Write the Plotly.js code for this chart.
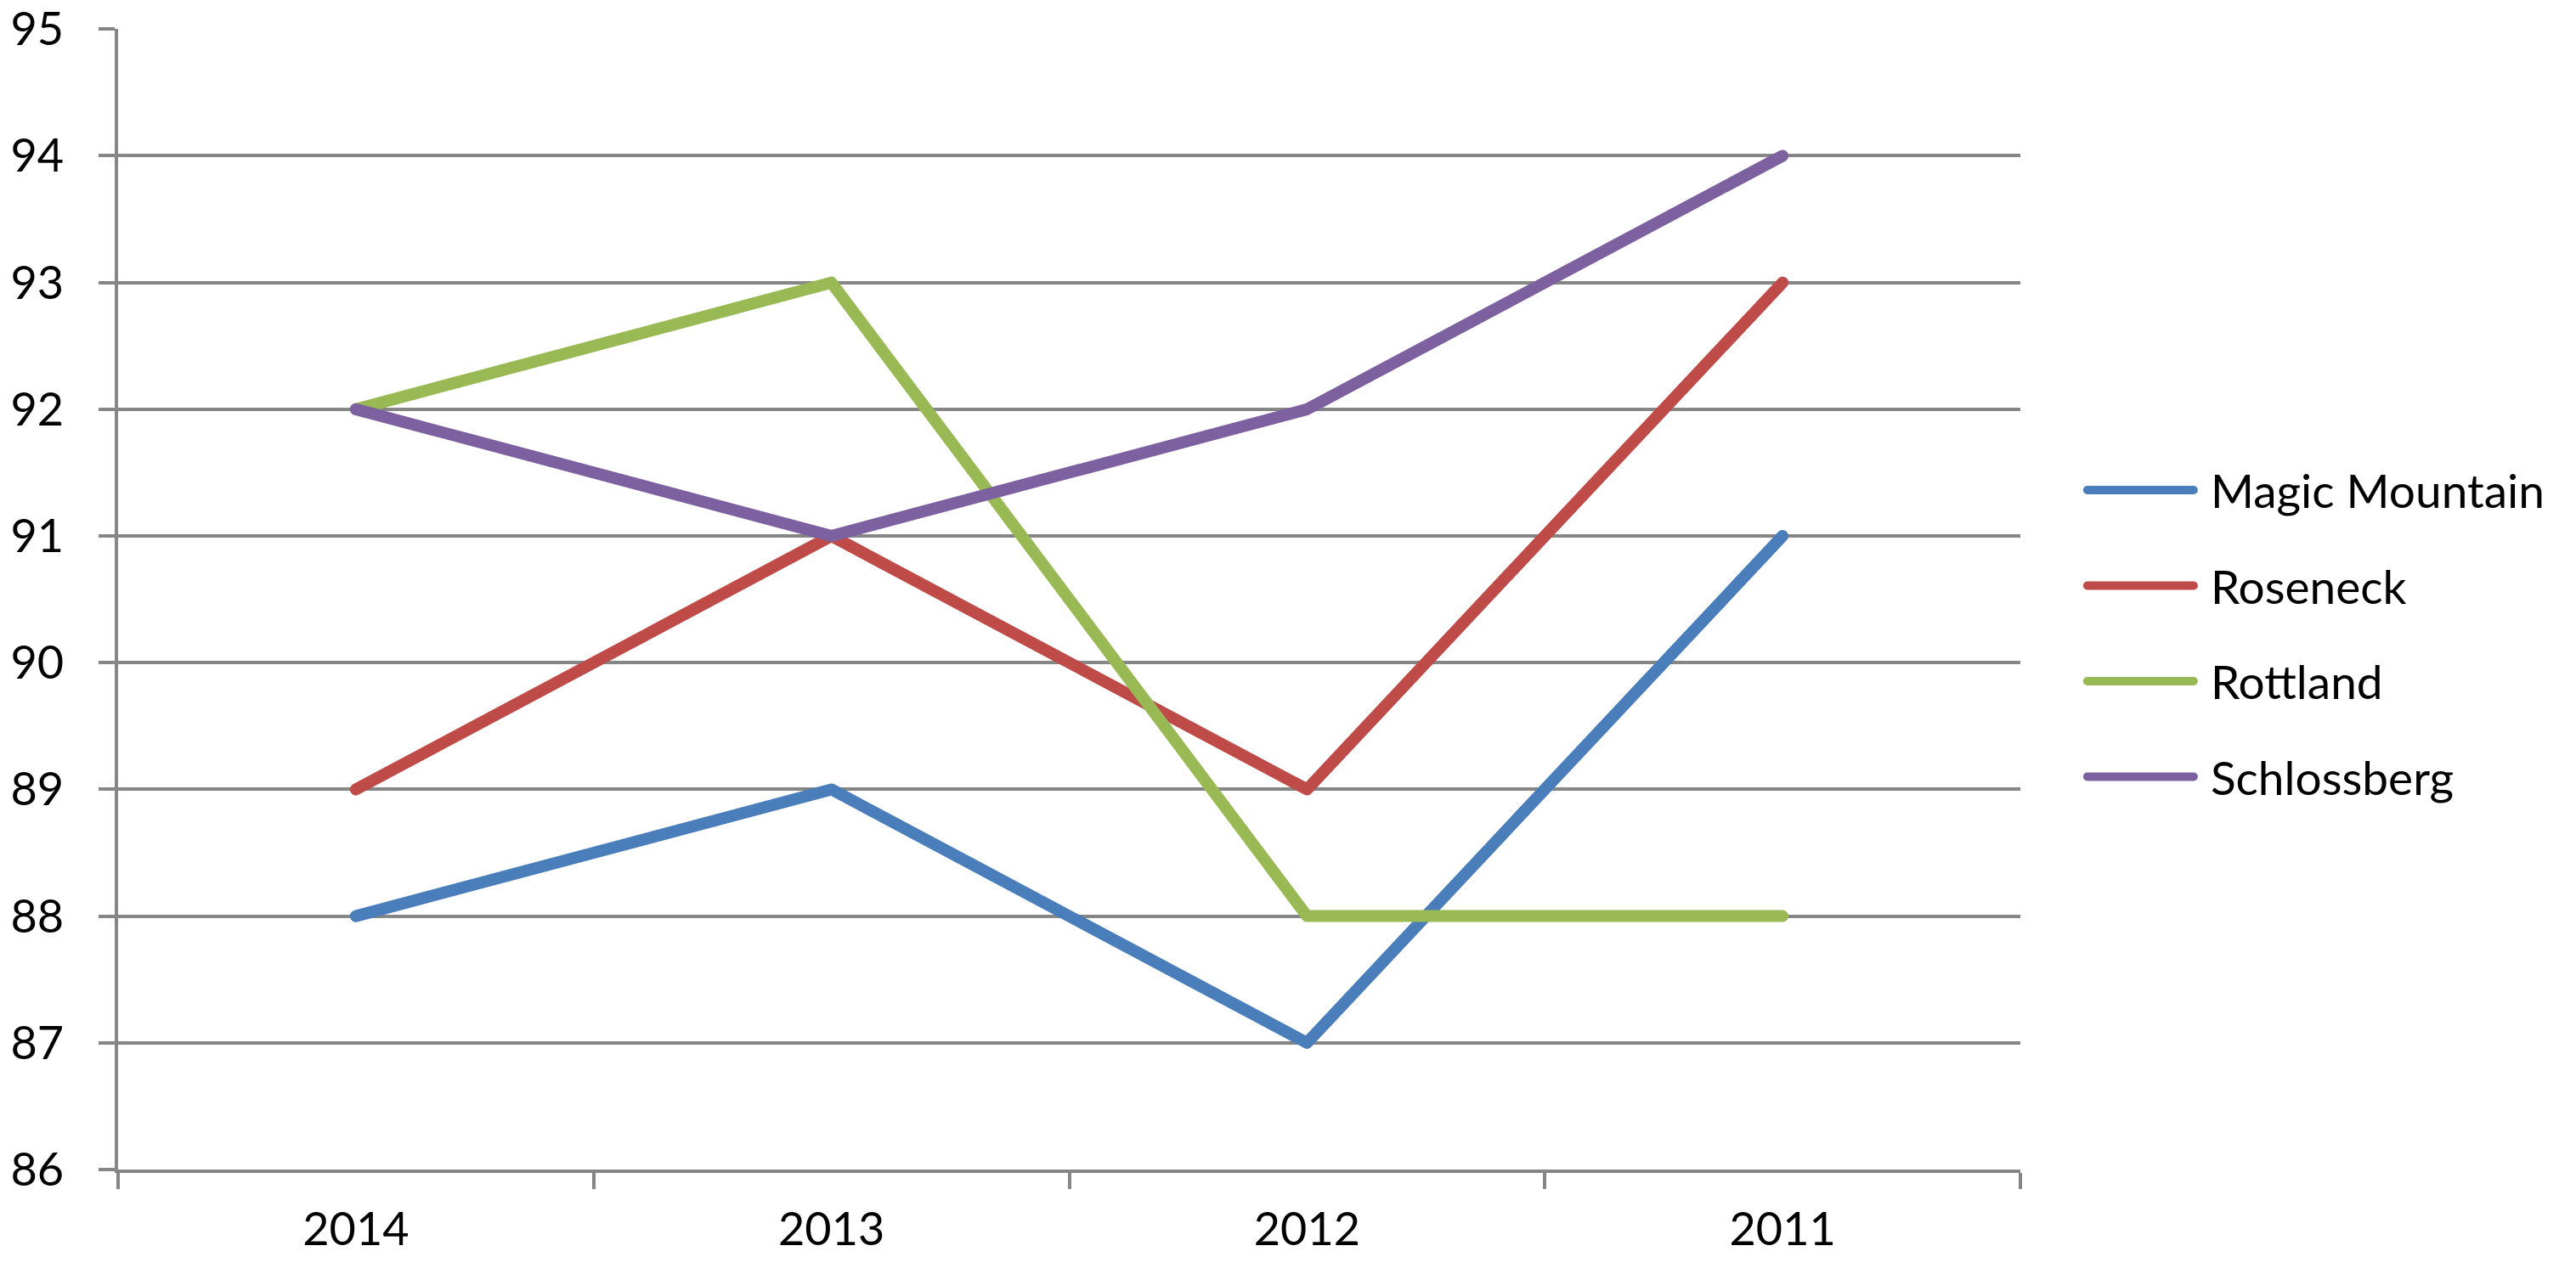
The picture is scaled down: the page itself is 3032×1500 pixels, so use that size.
<!DOCTYPE html>
<html>
<head>
<meta charset="utf-8">
<script src="https://cdn.plot.ly/plotly-3.0.1.min.js"></script>
<style>
html,body{margin:0;padding:0;background:#fff;}
#chart{width:3032px;height:1500px;}
</style>
</head>
<body>
<div id="chart"></div>
<script>
const years = ["2014", "2013", "2012", "2011"];
const magicMountain = [88, 89, 87, 91];
const roseneck = [89, 91, 89, 93];
const rottland = [92, 93, 88, 88];
const schlossberg = [92, 91, 92, 94];
const seriesNames = ["Magic Mountain", "Roseneck", "Rottland", "Schlossberg"];
const seriesColors = ["#4A7EBB", "#BE4B48", "#98B954", "#7D60A0"];
const seriesValues = [magicMountain, roseneck, rottland, schlossberg];
const yTicks = [86, 87, 88, 89, 90, 91, 92, 93, 94, 95];

const FONT = "Lato, 'Open Sans', sans-serif";
const GRID = "#868686";

const traces = seriesValues.map((vals, i) => ({
  type: "scatter",
  mode: "lines",
  x: years,
  y: vals,
  name: seriesNames[i],
  legendgroup: "g" + i,
  line: {color: seriesColors[i], width: 14},
  hoverinfo: "x+y+name"
}));

const layout = {
  width: 3032,
  height: 1500,
  paper_bgcolor: "#ffffff",
  plot_bgcolor: "#ffffff",
  margin: {l: 139, r: 654, t: 34, b: 123, pad: 0},
  font: {family: FONT, size: 54, color: "#000000"},
  showlegend: true,
  legend: {
    x: 1.033, xanchor: "left",
    y: 0.47, yanchor: "middle",
    traceorder: "grouped",
    tracegroupgap: 38,
    itemwidth: 140,
    font: {family: FONT, size: 55, color: "#000"},
    bgcolor: "rgba(0,0,0,0)",
    borderwidth: 0
  },
  xaxis: {
    type: "category",
    categoryorder: "array",
    categoryarray: years,
    range: [-0.5, 3.5],
    tickson: "boundaries",
    ticks: "outside",
    ticklen: 19,
    tickwidth: 4,
    tickcolor: GRID,
    showgrid: false,
    showline: true,
    linecolor: GRID,
    linewidth: 4,
    zeroline: false,
    ticklabelstandoff: 20,
    tickfont: {family: FONT, size: 54, color: "#000"}
  },
  yaxis: {
    range: [86, 95.002],
    tickvals: yTicks,
    ticktext: yTicks.map(String),
    ticks: "outside",
    ticklen: 19,
    tickwidth: 4,
    tickcolor: GRID,
    showgrid: true,
    gridcolor: GRID,
    gridwidth: 4,
    showline: true,
    linecolor: GRID,
    linewidth: 4,
    zeroline: false,
    ticklabelstandoff: 30,
    ticklabeloverflow: "allow",
    tickfont: {family: FONT, size: 54, color: "#000"}
  }
};

Plotly.newPlot("chart", traces, layout, {displayModeBar: false, staticPlot: true}).then(gd => {
  document.querySelectorAll(".legendlines path").forEach(p => {
    p.setAttribute("d", "M5,0h125");
    p.style.strokeLinecap = "round";
  });
  document.querySelectorAll(".scatterlayer .js-line").forEach(p => {
    p.style.strokeLinecap = "round";
    p.style.strokeLinejoin = "round";
  });
});
</script>
</body>
</html>
